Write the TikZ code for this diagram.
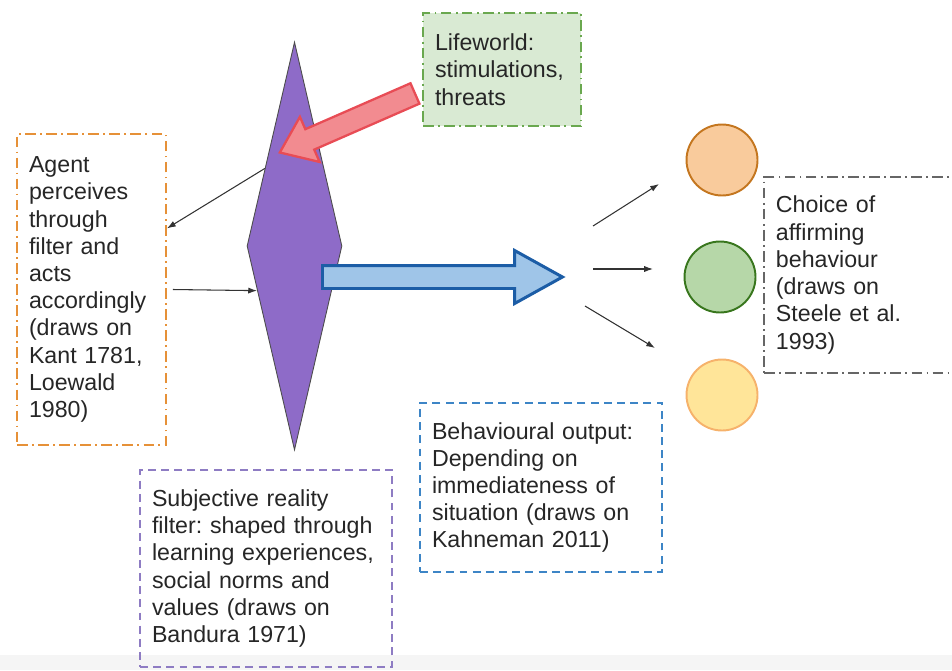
\documentclass[tikz,border=0pt]{standalone}
\usepackage{fontspec}
\setmainfont{Liberation Sans}
\usetikzlibrary{positioning,shapes.geometric,shapes.arrows,arrows.meta}
\definecolor{agentorange}{HTML}{E69138}
\definecolor{lifefill}{HTML}{D9EAD3}
\definecolor{lifegreen}{HTML}{6AA84F}
\definecolor{choicegrey}{HTML}{666666}
\definecolor{subjpurple}{HTML}{8E7CC3}
\definecolor{behavblue}{HTML}{3D85C6}
\definecolor{filterpurple}{HTML}{8E6BC8}
\definecolor{threatfill}{HTML}{F28B90}
\definecolor{threatred}{HTML}{E84C55}
\definecolor{outfill}{HTML}{9FC5E8}
\definecolor{outblue}{HTML}{1C5DA6}
\definecolor{orfill}{HTML}{F9CB9C}
\definecolor{ordraw}{HTML}{C4761F}
\definecolor{grfill}{HTML}{B6D7A8}
\definecolor{grdraw}{HTML}{38761D}
\definecolor{yefill}{HTML}{FFE599}
\definecolor{yedraw}{HTML}{F6B26B}
\definecolor{textgrey}{HTML}{262626}
\frenchspacing

\begin{document}
\begin{tikzpicture}[x=0.02cm, y=-0.02cm,
	note/.style={rectangle, inner xsep=0.24cm, inner ysep=0pt, align=left,
	font=\fontsize{13.2}{15.5}\selectfont, text=textgrey, line width=1.1pt},
	dashdot/.style={dash pattern=on 6pt off 2.5pt on 1pt off 2.5pt},
	dashes/.style={dash pattern=on 4.5pt off 3pt},
	option/.style={circle, minimum size=1.42cm, line width=1.1pt},
	thin/.style={black!80, line width=0.6pt, -{Latex[length=5pt,width=3.5pt]}}
	]
	\useasboundingbox (0,0) rectangle (952,670);
	\clip (0,0) rectangle (952,670);
	\fill[black!4] (0,655) rectangle (952,670);
	
	% text boxes
	\node[note, draw=agentorange, dashdot, text width=2.5cm, minimum height=6.22cm] 
	(agent) at (91.5,289.5) {Agent\\perceives\\through\\filter and\\acts\\accordingly\\(draws on\\Kant 1781,\\Loewald\\1980)};
	\node[note, draw=lifegreen, fill=lifefill, dashdot, text width=2.68cm, minimum height=2.26cm] 
	(life) at (502,69.5) {Lifeworld:\\stimulations,\\threats};
	\node[note, draw=choicegrey, dashdot, text width=4.2cm, minimum height=3.92cm, anchor=west] 
	(choice) at (763,275) {Choice of\\affirming\\behaviour\\(draws on\\Steele et al.\\1993)};
	\node[note, draw=subjpurple, dashes, text width=4.56cm, minimum height=3.94cm] 
	(subj) at (266,568.5) {Subjective reality\\filter: shaped through\\learning experiences,\\social norms and\\values (draws on\\Bandura 1971)};
	\node[note, draw=behavblue, dashes, text width=4.36cm, minimum height=3.38cm] 
	(behav) at (541,487.5) {Behavioural output:\\Depending on\\immediateness of\\situation (draws on\\Kahneman 2011)};
	
	% filter
	\node[diamond, draw=black!70, fill=filterpurple, line width=0.5pt, inner sep=0pt,
	minimum width=1.9cm, minimum height=8.16cm] (filter) at (294.5,246) {};
	
	% big arrows
	\node[single arrow, draw=threatred, fill=threatfill, line width=1.3pt, inner xsep=0pt, inner ysep=0.2cm,
	minimum height=2.95cm, minimum width=0.95cm, single arrow head extend=0.27cm,
	single arrow tip angle=74, rotate=203.6, anchor=tail] (threat) at (416,93) {};
	\node[single arrow, draw=outblue, fill=outfill, line width=1.7pt, inner xsep=0pt, inner ysep=0.2cm,
	minimum height=4.8cm, minimum width=1.0cm, single arrow head extend=0.3cm,
	single arrow tip angle=58, anchor=tail] (output) at (321,277) {};
	
	% options
	\node[option, draw=ordraw, fill=orfill] (optA) at (722,160) {};
	\node[option, draw=grdraw, fill=grfill] (optB) at (720,277) {};
	\node[option, draw=yedraw, fill=yefill] (optC) at (722,395) {};
	
	\coordinate (fork1) at (593,226);
	\coordinate (fork2) at (593,269);
	\coordinate (fork3) at (585,306);
	\coordinate (tip1) at (659,184);
	\coordinate (tip2) at (653,269);
	\coordinate (tip3) at (655,348);
	
	\draw[thin] (filter.111) to (agent.39.5);
	\draw[thin] ([xshift=0.12cm]agent.east) to (filter.230);
	\draw[thin] (fork1) to (tip1);
	\draw[thin] (fork2) to (tip2);
	\draw[thin] (fork3) to (tip3);
\end{tikzpicture}
\end{document}
